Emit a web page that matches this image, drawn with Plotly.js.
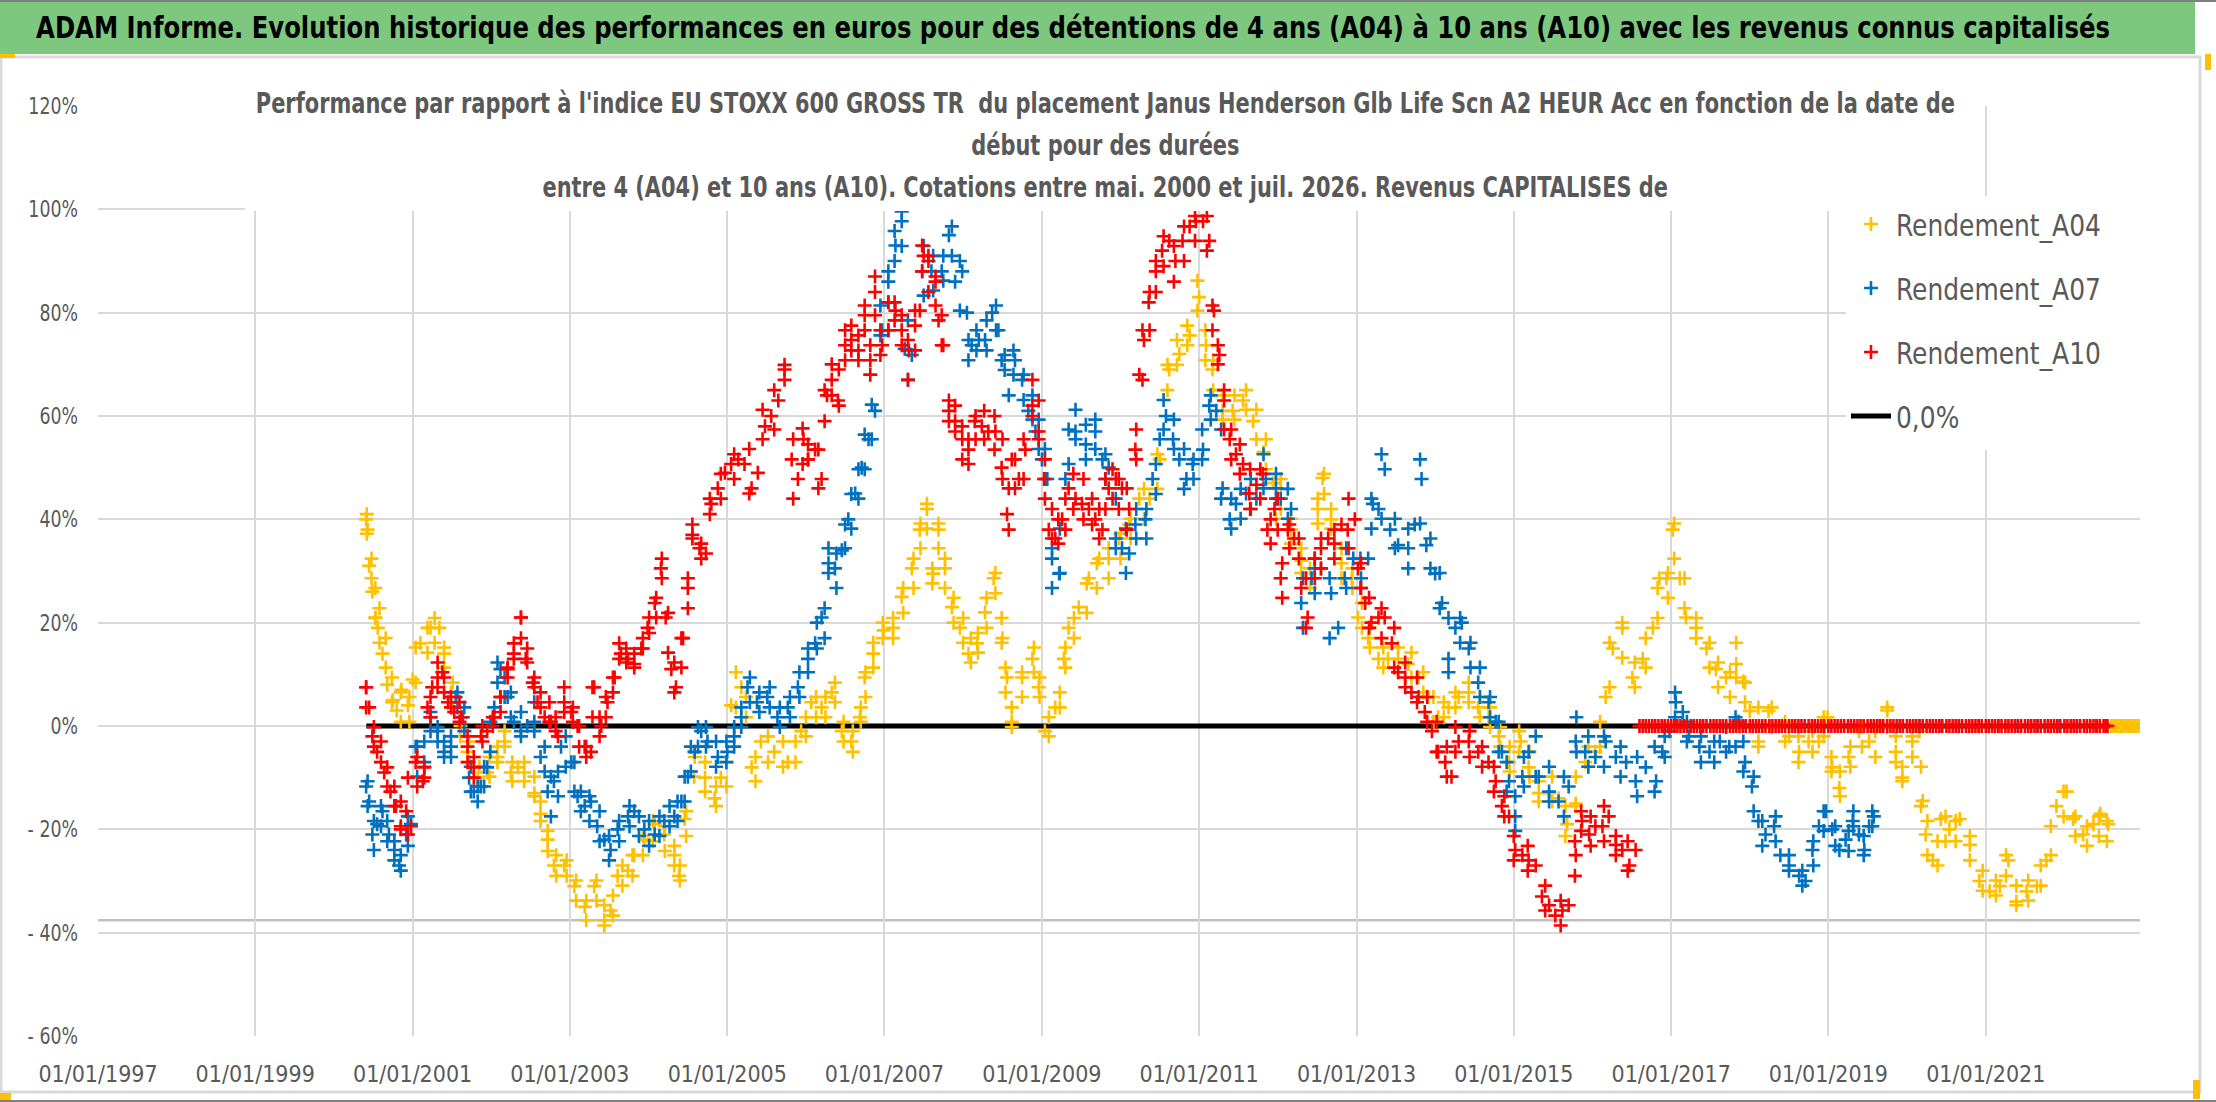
<!DOCTYPE html>
<html>
<head>
<meta charset="utf-8">
<script src="https://cdn.plot.ly/plotly-3.0.1.min.js"></script>
<style>
  html, body { margin: 0; padding: 0; background: #fff; }
  #chart { width: 2216px; height: 1102px; }
</style>
</head>
<body>
<div id="chart"></div>
<script>
// dates are read off the chart as decimal years, values in %
// main track of each cloud
const a04Years = [2000.41, 2000.43, 2000.45, 2000.49, 2000.53, 2000.56, 2000.62, 2000.68, 2000.75, 2000.8, 2000.86, 2000.94,
    2001.0, 2001.1, 2001.23, 2001.34, 2001.4, 2001.49, 2001.61, 2001.7, 2001.83, 2001.95,
    2002.08, 2002.17, 2002.25, 2002.34, 2002.42, 2002.55, 2002.63, 2002.72, 2002.8, 2002.93,
    2003.06, 2003.19, 2003.31, 2003.44, 2003.52, 2003.61, 2003.74, 2003.82, 2003.95,
    2004.08, 2004.2, 2004.33, 2004.39, 2004.46, 2004.59, 2004.72, 2004.84, 2004.92,
    2005.05, 2005.18, 2005.31, 2005.43, 2005.6, 2005.77, 2005.94,
    2006.07, 2006.2, 2006.33, 2006.46, 2006.58, 2006.69, 2006.75, 2006.86, 2006.99,
    2007.11, 2007.22, 2007.35, 2007.45, 2007.54, 2007.62, 2007.69, 2007.77, 2007.86, 2007.96,
    2008.07, 2008.18, 2008.28, 2008.39, 2008.5, 2008.56, 2008.62, 2008.75, 2008.88, 2008.96,
    2009.04, 2009.17, 2009.28, 2009.34, 2009.47, 2009.6, 2009.73, 2009.85, 2009.98,
    2010.11, 2010.24, 2010.37, 2010.5, 2010.62, 2010.75, 2010.88,
    2011.0, 2011.09, 2011.17, 2011.3, 2011.43, 2011.56, 2011.69, 2011.82, 2011.94,
    2012.04, 2012.17, 2012.3, 2012.43, 2012.51, 2012.57, 2012.68, 2012.81, 2012.94,
    2013.02, 2013.15, 2013.28, 2013.4, 2013.53, 2013.66, 2013.79, 2013.91,
    2014.04, 2014.17, 2014.3, 2014.43, 2014.55, 2014.68, 2014.81, 2014.94,
    2015.09, 2015.19, 2015.32, 2015.45, 2015.57, 2015.68, 2015.79, 2015.91,
    2016.04, 2016.17, 2016.26, 2016.38, 2016.51, 2016.64, 2016.77, 2016.85, 2016.94,
    2017.02, 2017.11, 2017.19, 2017.32, 2017.45, 2017.57, 2017.7, 2017.83, 2017.92,
    2018.0, 2018.11, 2018.24, 2018.37, 2018.5, 2018.63, 2018.75, 2018.88, 2018.99,
    2019.05, 2019.14, 2019.26, 2019.39, 2019.52, 2019.65, 2019.75, 2019.86, 2019.94,
    2020.07, 2020.16, 2020.2, 2020.24, 2020.33, 2020.43, 2020.54, 2020.67, 2020.8, 2020.92,
    2021.05, 2021.18, 2021.29, 2021.39, 2021.52, 2021.65, 2021.77, 2021.9,
    2022.03, 2022.11, 2022.24, 2022.37, 2022.46, 2022.56,
    2022.6, 2022.63, 2022.66, 2022.69, 2022.72, 2022.75, 2022.78, 2022.81, 2022.84, 2022.87, 2022.9, 2022.93, 2022.96];
const a04Values = [40, 38, 31, 26, 21, 19, 14, 8, 5, 3, 7, 4,
    9, 16, 19, 19, 14, 6.5, 0, -5, -10, -9,
    -6, -3, -9, -8, -9, -13, -17, -22, -27, -27,
    -31, -35, -31, -37.6, -35.7, -29, -28, -25, -22,
    -19, -21, -25, -29, -18, -6, -10, -14, -10,
    4, 7.5, -8, -3, -5, -7, -1,
    4.6, 3.6, 6.5, -1, -3, 1.7, 9.4, 14, 18.5,
    19, 25, 30.5, 38, 42, 29.5, 38, 30.5, 23, 19,
    14, 16, 22, 28.6, 17, 9.4, 0.8, 9.4, 13, 7.5,
    -1, 3.6, 13, 19, 23, 28.6, 32.4, 32.4, 36.3,
    39, 44, 44, 51.6, 69, 72, 75.6,
    83, 73.7, 69, 61, 61, 63, 59, 53, 47,
    46, 38, 32, 28.6, 42, 48, 40, 31.5, 28.6,
    21, 17, 13, 13, 13, 12, 9.4, 5.6,
    1.7, 3.6, 5.6, 6.5, 3.6, 1.7, -2, -7,
    -3, -8, -13, -13, -14, -19, -15, -7,
    -5, 5.6, 15, 19, 9.4, 13, 19, 28.6, 28.6,
    38, 28.6, 21, 19, 15, 11, 9.4, 12, 8.6,
    2.9, -3, 2.9, 0, -2, -5, -3, -3, 1.7,
    -8, -12, -6, -1, -3, 0, 3, -5, -10,
    -3, -1, -14.5, -21, -26, -18, -20, -18, -23, -30,
    -32, -31, -26, -34, -32, -31, -26, -15.5,
    -12.7, -18, -21, -19, -17, -19,
    0, 0, 0, 0, 0, 0, 0, 0, 0, 0, 0, 0, 0];

// upper and lower edge of the A04 cloud
const a04BandYears = [2000.42, 2000.48, 2000.53, 2000.58, 2000.66, 2000.74, 2000.85, 2000.96, 2001.04, 2001.19,
    2001.28, 2001.4, 2001.51, 2001.61, 2001.72, 2001.85, 2001.98, 2002.08, 2002.17, 2002.27,
    2002.42, 2002.55, 2002.63, 2002.72, 2002.83, 2002.96, 2003.08, 2003.21, 2003.34, 2003.44,
    2003.55, 2003.67, 2003.8, 2003.93, 2004.06, 2004.21, 2004.33, 2004.4, 2004.48, 2004.58,
    2004.72, 2004.86, 2004.99, 2005.11, 2005.24, 2005.36, 2005.52, 2005.71, 2005.87, 2006.0,
    2006.13, 2006.25, 2006.37, 2006.48, 2006.6, 2006.7, 2006.76, 2006.86, 2006.98, 2007.11,
    2007.24, 2007.37, 2007.46, 2007.54, 2007.61, 2007.69, 2007.77, 2007.88, 2008.0, 2008.1,
    2008.19, 2008.3, 2008.41, 2008.49, 2008.54, 2008.62, 2008.75, 2008.9, 2008.97, 2009.09,
    2009.23, 2009.3, 2009.41, 2009.57, 2009.7, 2009.85, 2010.0, 2010.13, 2010.3, 2010.47,
    2010.6, 2010.72, 2010.85, 2010.98, 2011.08, 2011.18, 2011.3, 2011.45, 2011.6, 2011.73,
    2011.85, 2011.98, 2012.04, 2012.17, 2012.3, 2012.41, 2012.51, 2012.59, 2012.68, 2012.81,
    2012.95, 2013.07, 2013.17, 2013.34, 2013.53, 2013.7, 2013.85, 2013.98, 2014.11, 2014.26,
    2014.43, 2014.57, 2014.7, 2014.83, 2014.95, 2015.07, 2015.2, 2015.32, 2015.49, 2015.66,
    2015.79, 2015.95, 2016.1, 2016.22, 2016.38, 2016.54, 2016.68, 2016.83, 2016.96, 2017.04,
    2017.17, 2017.32, 2017.49, 2017.6, 2017.75, 2017.83, 2017.94, 2018.11, 2018.28, 2018.45,
    2018.62, 2018.8, 2018.94, 2019.04, 2019.15, 2019.28, 2019.43, 2019.6, 2019.75, 2019.86,
    2019.94, 2020.07, 2020.18, 2020.26, 2020.39, 2020.49, 2020.62, 2020.8, 2020.96, 2021.13,
    2021.26, 2021.39, 2021.54, 2021.7, 2021.83, 2021.99, 2022.14, 2022.29, 2022.44, 2022.54];
const a04BandHigh = [41, 32.4, 26.7, 22.8, 17, 9.4, 6.5, 5.6, 15.2, 19,
    20.9, 15.2, 8.4, 1.7, -3, -7.9, -6, -4, -1, -7,
    -7, -9.8, -14.6, -20.3, -25, -26, -29.9, -33.8, -29.9, -34.7,
    -32.8, -27, -25, -21.3, -18.4, -19.4, -23.2, -27, -16.5, -5,
    -7, -11.7, -7, 10.4, 5.6, -6, -2, -3, -3, 1.7,
    5.6, 5.6, 8.4, 0.8, -1, 3.6, 10.4, 16.1, 20, 20.9,
    26.7, 32.4, 39.2, 43, 30.5, 39.2, 32.4, 24.8, 20.9, 17,
    18, 24.8, 29.6, 20.9, 11.3, 3.6, 10.4, 15.2, 9.4, 1.7,
    6.5, 15.2, 20.9, 27.6, 31.5, 34.4, 37.2, 40.1, 45.9, 52.6,
    69.9, 74.7, 77.5, 86.2, 76.6, 70.8, 64, 64, 65, 61.2,
    55.5, 47.8, 47.8, 40.1, 34.4, 30.5, 44, 48.8, 42, 34.4,
    30.5, 23.8, 19, 15.2, 15.2, 14.2, 10.4, 5.6, 4.6, 6.5,
    8.4, 5.6, 3.6, -0.2, -4, -1, -5, -10.7, -9.8, -15.5,
    -9.8, -4, 0.8, 16.1, 20, 12.3, 17, 26.7, 29.6, 39.2,
    28.6, 20.9, 16.1, 12.3, 10.4, 16.1, 8.4, 3.6, 3.6, 0.8,
    -2, -1, 1.7, -6, -8.8, -4, -0.2, -1, 3.6, -2,
    -7.9, -2, -7.9, -18.4, -22.3, -17.5, -18.4, -21.3, -28, -29.9,
    -25, -30.9, -29.9, -27, -19.4, -12.7, -17.5, -19.4, -17.5, -18.4];
const a04BandLow = [37.2, 28.6, 20.9, 16.1, 11.3, 4.6, 0.8, 0.8, 8.4, 14.2,
    16.1, 11.3, 3.6, -2, -7, -11.7, -9.8, -7, -4, -10.7,
    -10.7, -13.6, -18.4, -24.2, -29, -29, -33.8, -37.6, -33.8, -38.6,
    -36.7, -30.9, -29, -25, -22.3, -24.2, -27, -29.9, -21.3, -9.8,
    -12.7, -15.5, -11.7, 3.6, 1.7, -10.7, -7, -7.9, -7, -2,
    1.7, 1.7, 4.6, -3, -5, 0.8, 5.6, 11.3, 17, 17,
    21.9, 26.7, 34.4, 38.2, 27.6, 34.4, 26.7, 20, 16.1, 12.3,
    14.2, 19, 25.7, 16.1, 6.5, -0.2, 5.6, 10.4, 5.6, -2,
    3.6, 11.3, 17, 21.9, 26.7, 28.6, 32.4, 36.3, 40.1, 45.9,
    65, 69.9, 73.7, 80.4, 70.8, 65, 59.3, 59.3, 61.2, 55.5,
    49.7, 40.1, 42, 35.3, 29.6, 26.7, 39.2, 44.9, 38.2, 28.6,
    26.7, 19, 15.2, 11.3, 10.4, 9.4, 6.5, 0.8, 1.7, 3.6,
    4.6, 1.7, -0.2, -4, -8.8, -5, -9.8, -14.6, -14.6, -21.3,
    -15.5, -7.9, -4, 7.5, 13.2, 7.5, 11.3, 20.9, 24.8, 32.4,
    22.8, 17, 11.3, 7.5, 5.6, 9.4, 4.6, -4, -0.2, -3,
    -7, -5, -2, -8.8, -13.6, -7.9, -4, -6, -0.2, -7,
    -10.7, -6, -15.5, -25, -27, -22.3, -22.3, -26, -31.9, -32.8,
    -29, -34.7, -33.8, -30.9, -25, -17.5, -21.3, -23.2, -21.3, -22.3];

const a07Years = [2000.41, 2000.45, 2000.49, 2000.55, 2000.62, 2000.7, 2000.77, 2000.83, 2000.92, 2000.98,
    2001.04, 2001.15, 2001.23, 2001.32, 2001.4, 2001.49, 2001.55, 2001.64, 2001.72, 2001.78, 2001.87, 2001.95,
    2002.04, 2002.12, 2002.21, 2002.29, 2002.38, 2002.46, 2002.55, 2002.63, 2002.72, 2002.8, 2002.89,
    2003.02, 2003.1, 2003.19, 2003.27, 2003.35, 2003.44, 2003.52, 2003.61, 2003.74, 2003.82, 2003.95,
    2004.08, 2004.2, 2004.33, 2004.42, 2004.5, 2004.59, 2004.67, 2004.75, 2004.88,
    2005.0, 2005.09, 2005.18, 2005.26, 2005.38, 2005.51, 2005.64, 2005.77, 2005.9,
    2006.03, 2006.12, 2006.2, 2006.29, 2006.37, 2006.46, 2006.54, 2006.63, 2006.71, 2006.8, 2006.88, 2006.97,
    2007.05, 2007.14, 2007.22, 2007.26, 2007.35, 2007.48, 2007.6, 2007.73, 2007.82, 2007.9, 2007.99,
    2008.05, 2008.11, 2008.2, 2008.28, 2008.37, 2008.45, 2008.49, 2008.58, 2008.66, 2008.75, 2008.83, 2008.92,
    2009.0, 2009.07, 2009.13, 2009.22, 2009.3, 2009.43, 2009.56, 2009.68, 2009.77, 2009.85, 2009.94,
    2010.02, 2010.11, 2010.19, 2010.32, 2010.41, 2010.5, 2010.58, 2010.67, 2010.75, 2010.84, 2010.92,
    2011.05, 2011.13, 2011.22, 2011.3, 2011.39, 2011.47, 2011.6, 2011.73, 2011.85, 2011.98,
    2012.04, 2012.17, 2012.3, 2012.43, 2012.55, 2012.68, 2012.77, 2012.85, 2012.96,
    2013.06, 2013.15, 2013.21, 2013.28, 2013.36, 2013.43, 2013.53, 2013.66, 2013.74, 2013.83, 2013.89,
    2014.0, 2014.09, 2014.17, 2014.26, 2014.34, 2014.43, 2014.55, 2014.68, 2014.77, 2014.85, 2014.94,
    2015.02, 2015.11, 2015.19, 2015.32, 2015.45, 2015.57, 2015.7, 2015.79, 2015.91,
    2016.04, 2016.17, 2016.3, 2016.43, 2016.55, 2016.68, 2016.81, 2016.89, 2016.98,
    2017.06, 2017.15, 2017.23, 2017.36, 2017.49, 2017.62, 2017.74, 2017.86, 2017.94,
    2018.03, 2018.11, 2018.2, 2018.31, 2018.39, 2018.5, 2018.63, 2018.71, 2018.8, 2018.88, 2018.97,
    2019.05, 2019.14, 2019.22, 2019.31, 2019.39, 2019.46, 2019.52, 2019.58,
    2019.66, 2019.91, 2020.16, 2020.41, 2020.66, 2020.91, 2021.16, 2021.41, 2021.66, 2021.91, 2022.16, 2022.41];
const a07Values = [-11.7, -14.6, -21, -19, -16.5, -21, -24, -27, -21, -19,
    -4, -7, 1.7, -1, -5, -4, 5.6, 1.7, -10, -12.7, -11.7, -8,
    3.6, 11, 5.6, 0.8, -1, 0, 0.8, -6, -12.7, -10.7, -4,
    -7, -13.6, -15.5, -14.6, -19.4, -22, -24, -20, -17.5, -16.5, -20,
    -21, -18.4, -17.5, -14.6, -9.8, -5, -1, -3, -6,
    -5, -2, 1.7, 7.5, 4.6, 5.6, 1.7, 3.6, 7.5,
    13, 16, 21, 31.5, 30.5, 34, 40, 45, 50, 55.5, 61, 76.6,
    86, 93, 97.7, 73, 71.8, 88, 88, 88, 95, 86, 88,
    80, 73.7, 74.7, 74.7, 80, 76.6, 70.8, 64, 70.8, 67, 61, 57,
    51.6, 47.8, 32.4, 29.5, 47.8, 57, 54.5, 57, 51.6, 50, 36.3,
    34.4, 33.4, 39, 40, 47.8, 55.5, 60, 55.5, 51.6, 47.8, 50.7,
    53.5, 62, 61, 46, 40, 43, 45, 44, 47.8, 46,
    44, 42, 23.8, 28.6, 30.5, 25.7, 19, 28.6, 32.4,
    28.6, 32.4, 43, 42, 49.7, 38, 35, 34.4, 39, 47.8, 35,
    29.5, 23.8, 13, 19, 20, 15, 8.4, 4.6, 0.8, -5, -10.7,
    -17.5, -9.8, -5, -9.8, -12.7, -14.6, -11.7, -3, -5,
    -6, -3, -6, -7, -10.7, -8, -10.7, -5, -1,
    4.6, 2.7, -2, -4, -5, -3, -4, 0.8, -7,
    -11.7, -18.4, -21, -19.4, -25, -27, -29, -30, -24, -19.4, -16.5,
    -20, -24, -22, -18.4, -21, -24, -19.4, -17.5,
    0, 0, 0, 0, 0, 0, 0, 0, 0, 0, 0, 0];

const a07BandYears = [2000.43, 2000.51, 2000.6, 2000.68, 2000.77, 2000.85, 2000.94, 2001.06, 2001.15, 2001.23,
    2001.32, 2001.4, 2001.49, 2001.57, 2001.66, 2001.74, 2001.83, 2001.91, 2001.99, 2002.08,
    2002.17, 2002.25, 2002.38, 2002.55, 2002.68, 2002.76, 2002.85, 2002.95, 2003.06, 2003.14,
    2003.25, 2003.38, 2003.5, 2003.63, 2003.76, 2003.88, 2004.01, 2004.14, 2004.27, 2004.37,
    2004.46, 2004.54, 2004.63, 2004.73, 2004.86, 2004.99, 2005.09, 2005.18, 2005.29, 2005.41,
    2005.54, 2005.67, 2005.8, 2005.92, 2006.03, 2006.14, 2006.24, 2006.29, 2006.39, 2006.5,
    2006.58, 2006.67, 2006.75, 2006.84, 2006.95, 2007.05, 2007.13, 2007.22, 2007.3, 2007.5,
    2007.62, 2007.75, 2007.86, 2007.96, 2008.07, 2008.17, 2008.3, 2008.42, 2008.53, 2008.64,
    2008.77, 2008.88, 2008.96, 2009.04, 2009.13, 2009.23, 2009.34, 2009.43, 2009.56, 2009.68,
    2009.81, 2009.94, 2010.07, 2010.2, 2010.33, 2010.45, 2010.55, 2010.68, 2010.81, 2010.93,
    2011.04, 2011.15, 2011.28, 2011.41, 2011.53, 2011.66, 2011.82, 2011.98, 2012.13, 2012.32,
    2012.47, 2012.66, 2012.87, 2013.05, 2013.19, 2013.32, 2013.49, 2013.66, 2013.81, 2013.94,
    2014.06, 2014.17, 2014.32, 2014.45, 2014.57, 2014.7, 2014.81, 2014.91, 2015.02, 2015.13,
    2015.28, 2015.45, 2015.64, 2015.8, 2015.95, 2016.15, 2016.36, 2016.57, 2016.79, 2016.92,
    2017.05, 2017.2, 2017.38, 2017.55, 2017.7, 2017.82, 2017.92, 2018.05, 2018.16, 2018.33,
    2018.5, 2018.67, 2018.81, 2018.94, 2019.09, 2019.26, 2019.32, 2019.45, 2019.56];
const a07BandHigh = [-10.7, -18.4, -15.5, -18.4, -22.3, -25, -17.5, -4, -3, 2.7,
    -0.2, -3, -2, 6.5, 3.6, -7.9, -11.7, -7.9, 0.8, 12.3,
    9.4, 6.5, 2.7, 4.6, -4, -9.8, -8.8, -2, -7, -12.7,
    -13.6, -16.5, -21.3, -18.4, -15.5, -17.5, -18.4, -17.5, -15.5, -14.6,
    -9.8, -4, -0.2, -0.2, -3, -3, -0.2, 3.6, 9.4, 6.5,
    7.5, 3.6, 5.6, 10.4, 15, 20, 22.8, 34.4, 33.4, 39,
    44.9, 49.7, 56.4, 62.2, 81.4, 88, 95.8, 99.6, 78.5, 92.9,
    91, 91, 96.7, 90, 74.7, 76.6, 78.5, 81.4, 71.8, 72.7,
    68, 64, 59.3, 53.6, 34.4, 38.2, 57.4, 61.2, 58.3, 59.3,
    52.6, 44, 38.2, 42, 42, 50.7, 63.1, 59.3, 53.6, 51.6,
    57.4, 64, 57.4, 44, 45.9, 47.8, 52.6, 48.8, 45.9, 28.6,
    30.5, 28.6, 34.4, 32.4, 44, 52.6, 40.1, 38.2, 51.6, 36.3,
    29.6, 20.9, 20.9, 16.1, 11.3, 5.6, 0.8, -7, -13.6, -6,
    -2, -7.9, -9.8, 1.7, -2, -2, -4, -6, -4, -2,
    6.5, 0.8, -2, -3, -0.2, 1.7, -3, -9.8, -18.4, -17.5,
    -25, -28, -22.3, -16.5, -19.4, -20.3, -16.5, -21.3, -16.5];
const a07BandLow = [-15.5, -24, -19.4, -22.3, -26, -28, -23.2, -9.8, -7.9, -1,
    -3, -6, -6, 3.6, -1, -12.7, -14.6, -11.7, -5, 8.4,
    5.6, 1.7, -2, -1, -8.8, -17.5, -13.6, -7.9, -12.7, -16.5,
    -18.4, -22.3, -26, -22.3, -19.4, -21.3, -23.2, -21.3, -19.4, -18.4,
    -14.6, -8.8, -4, -4, -7.9, -7, -4, -0.2, 4.6, 2.7,
    3.6, -0.2, 1.7, 5.6, 10.4, 15, 17, 29.6, 26.7, 34.4,
    38.2, 44, 49.7, 55.5, 75.6, 82, 90, 92.9, 67, 83.3,
    84.3, 86.2, 91, 80.4, 70.8, 72.7, 72.7, 76.6, 68.9, 68,
    63.1, 59.3, 53.6, 47.8, 26.7, 29.6, 50.7, 55.5, 51.6, 53.6,
    47.8, 34.4, 29.6, 36.3, 36.3, 44.9, 57.4, 53.6, 45.9, 47.8,
    51.6, 59.3, 44, 38.2, 40.1, 42, 46, 44, 40.1, 19,
    25.7, 17, 26.7, 26.7, 38.2, 40.1, 34.4, 30.5, 39.2, 30.5,
    22.8, 10.4, 16.1, 11.3, 5.6, 1.7, -5, -12.7, -20.3, -11.7,
    -9.8, -14.6, -17.5, -5, -7.9, -7.9, -9.8, -13.6, -12.7, -6,
    1.7, -3, -7, -7, -5, -4, -8.8, -16.5, -23.2, -22.3,
    -28, -30.9, -27, -20.3, -23.2, -24.2, -19.4, -25, -19.4];

const a10Years = [2000.41, 2000.45, 2000.49, 2000.55, 2000.64, 2000.72, 2000.79, 2000.85, 2000.92, 2000.98,
    2001.04, 2001.13, 2001.19, 2001.25, 2001.32, 2001.38, 2001.45, 2001.53, 2001.62, 2001.7, 2001.78, 2001.87, 2001.95,
    2002.04, 2002.12, 2002.21, 2002.29, 2002.38, 2002.44, 2002.53, 2002.59, 2002.68, 2002.76, 2002.85, 2002.93,
    2003.02, 2003.1, 2003.19, 2003.27, 2003.31, 2003.4, 2003.48, 2003.57, 2003.65, 2003.74, 2003.82, 2003.91, 2003.99,
    2004.08, 2004.16, 2004.22, 2004.29, 2004.35, 2004.44, 2004.5, 2004.56, 2004.65, 2004.73, 2004.8, 2004.88, 2004.97,
    2005.05, 2005.14, 2005.22, 2005.31, 2005.39, 2005.48, 2005.56, 2005.65, 2005.73, 2005.82, 2005.9, 2005.97,
    2006.03, 2006.12, 2006.2, 2006.27, 2006.33, 2006.41, 2006.5, 2006.58, 2006.67, 2006.75, 2006.82, 2006.88, 2006.97,
    2007.05, 2007.14, 2007.22, 2007.31, 2007.39, 2007.45, 2007.5, 2007.56, 2007.65, 2007.69, 2007.75, 2007.82, 2007.9, 2007.99,
    2008.07, 2008.15, 2008.24, 2008.32, 2008.41, 2008.49, 2008.56, 2008.62, 2008.71, 2008.79, 2008.88, 2008.96,
    2009.03, 2009.09, 2009.17, 2009.26, 2009.34, 2009.43, 2009.51, 2009.6, 2009.68, 2009.77, 2009.85, 2009.94,
    2010.02, 2010.11, 2010.19, 2010.24, 2010.3, 2010.36, 2010.45, 2010.53, 2010.62, 2010.7, 2010.79, 2010.88, 2010.96,
    2011.05, 2011.13, 2011.19, 2011.26, 2011.32, 2011.39, 2011.47, 2011.56, 2011.64, 2011.73, 2011.81, 2011.87, 2011.96,
    2012.04, 2012.13, 2012.21, 2012.3, 2012.38, 2012.47, 2012.55, 2012.64, 2012.72, 2012.81, 2012.89, 2012.98,
    2013.02, 2013.11, 2013.19, 2013.28, 2013.36, 2013.45, 2013.53, 2013.62, 2013.7, 2013.79, 2013.87, 2013.96,
    2014.04, 2014.13, 2014.21, 2014.3, 2014.43, 2014.55, 2014.68, 2014.77, 2014.85, 2014.94,
    2015.02, 2015.11, 2015.19, 2015.28, 2015.36, 2015.45, 2015.53, 2015.62, 2015.7, 2015.79, 2015.87, 2015.96,
    2016.04, 2016.13, 2016.21, 2016.3, 2016.38, 2016.47, 2016.55,
    2016.6, 2016.68, 2016.76, 2016.84, 2016.92,
    2017.0, 2017.08, 2017.16, 2017.25, 2017.33, 2017.41, 2017.5, 2017.58, 2017.66, 2017.75, 2017.83, 2017.91,
    2018.0, 2018.08, 2018.16, 2018.25, 2018.33, 2018.41, 2018.5, 2018.58, 2018.66, 2018.75, 2018.83, 2018.91,
    2019.0, 2019.08, 2019.16, 2019.25, 2019.33, 2019.41, 2019.5, 2019.58, 2019.66, 2019.75, 2019.83, 2019.91,
    2020.0, 2020.08, 2020.16, 2020.25, 2020.33, 2020.41, 2020.5, 2020.58, 2020.66, 2020.75, 2020.83, 2020.91,
    2021.0, 2021.08, 2021.16, 2021.25, 2021.33, 2021.41, 2021.5, 2021.58, 2021.66, 2021.75, 2021.83, 2021.91,
    2022.0, 2022.08, 2022.16, 2022.25, 2022.33, 2022.41, 2022.5, 2022.55];
const a10Values = [7.5, 3.6, -2, -5, -9, -12.7, -15.5, -19.4, -16.5, -19.4,
    -7, -10.7, 3.6, 7.5, 9.4, 10.4, 4.6, 2.7, 1.7, -4, -8, -2, -1,
    1.7, 5.6, 11, 14, 21, 13, 8.4, 4.6, 1.7, 0.8, -2, 4.6,
    2.7, 0, -4, -5, 7.5, 0, 4.6, 9.4, 14, 13, 12, 15, 19,
    23.8, 30.5, 21, 11, 7.5, 17, 26.7, 37, 34.4, 33.4, 43, 46, 49,
    50.7, 51.6, 50.7, 46, 49, 58, 60, 63, 69, 51.6, 47.8, 55.5,
    51.6, 53.5, 47.8, 64, 67, 63, 73.7, 74.7, 72.7, 79.5, 70.8, 84, 73.7,
    76.6, 80.4, 76.6, 72.7, 77.5, 80.4, 91, 90, 86, 78.5, 73.7, 61, 59, 55.5,
    53.5, 59, 58, 57, 57, 50, 41, 51.6, 47.8, 53.5, 62, 57,
    47.8, 38, 36.3, 40, 46, 44, 43, 42, 40, 38, 46, 47.8,
    46, 42, 53.5, 68, 74.7, 82, 88, 92, 93.9, 90, 93.9, 96.7, 97.7,
    97.7, 93.9, 80.4, 71.8, 63, 55.5, 52.6, 50.7, 45, 46.7, 48.8, 38, 42,
    28.6, 38, 36.3, 26.7, 21, 32.4, 34.4, 36.3, 35.3, 39, 38, 40,
    30.5, 23.8, 20, 21, 21, 16, 10.4, 9.4, 6.5, 5.6, 2.7, -1,
    -5, -7, -9.8, -3, -3, -5, -7, -10.7, -15.5, -17.5,
    -24, -25, -26, -27, -33, -34.7, -36.7, -35.7, -34.7, -25, -18.4, -21,
    -19.4, -19.4, -17.5, -23, -24, -27, -24,
    0, 0, 0, 0, 0,
    0, 0, 0, 0, 0, 0, 0, 0, 0, 0, 0, 0,
    0, 0, 0, 0, 0, 0, 0, 0, 0, 0, 0, 0,
    0, 0, 0, 0, 0, 0, 0, 0, 0, 0, 0, 0,
    0, 0, 0, 0, 0, 0, 0, 0, 0, 0, 0, 0,
    0, 0, 0, 0, 0, 0, 0, 0, 0, 0, 0, 0,
    0, 0, 0, 0, 0, 0, 0, 0];

const a10BandYears = [2000.41, 2000.51, 2000.6, 2000.68, 2000.77, 2000.85, 2000.94, 2001.06, 2001.15, 2001.23,
    2001.32, 2001.4, 2001.49, 2001.6, 2001.7, 2001.78, 2001.89, 2002.02, 2002.12, 2002.21,
    2002.29, 2002.38, 2002.46, 2002.55, 2002.63, 2002.74, 2002.82, 2002.93, 2003.04, 2003.12,
    2003.21, 2003.29, 2003.38, 2003.46, 2003.55, 2003.63, 2003.72, 2003.82, 2003.93, 2004.01,
    2004.1, 2004.17, 2004.25, 2004.33, 2004.42, 2004.5, 2004.56, 2004.67, 2004.78, 2004.92,
    2005.09, 2005.28, 2005.45, 2005.6, 2005.73, 2005.84, 2005.96, 2006.03, 2006.16, 2006.24,
    2006.33, 2006.42, 2006.5, 2006.58, 2006.67, 2006.75, 2006.82, 2006.88, 2006.95, 2007.05,
    2007.13, 2007.22, 2007.3, 2007.39, 2007.48, 2007.56, 2007.65, 2007.73, 2007.82, 2007.9,
    2007.99, 2008.07, 2008.16, 2008.27, 2008.4, 2008.5, 2008.58, 2008.66, 2008.77, 2008.88,
    2008.96, 2009.04, 2009.13, 2009.21, 2009.3, 2009.4, 2009.53, 2009.64, 2009.73, 2009.81,
    2009.9, 2009.98, 2010.08, 2010.2, 2010.28, 2010.37, 2010.45, 2010.55, 2010.68, 2010.81,
    2010.95, 2011.1, 2011.17, 2011.24, 2011.32, 2011.41, 2011.52, 2011.65, 2011.78, 2011.91,
    2012.0, 2012.06, 2012.15, 2012.27, 2012.36, 2012.47, 2012.55, 2012.72, 2012.9, 2013.06,
    2013.16, 2013.32, 2013.48, 2013.62, 2013.77, 2013.9, 2014.02, 2014.15, 2014.26, 2014.44,
    2014.6, 2014.75, 2014.88, 2015.0, 2015.18, 2015.4, 2015.6, 2015.78, 2015.86, 2015.98,
    2016.15, 2016.3, 2016.45];
const a10BandHigh = [7.5, -0.2, -3, -8, -11.7, -14.6, -10, -6, -8, 5.6,
    12.3, 9.4, 5.6, 4.6, -2, -6, 0, 1.7, 5.6, 11.3,
    16, 21, 15, 9.4, 6.5, 4.6, 1.7, 7.5, 3.6, 0,
    -4, 7.5, 1.7, 5.6, 9.4, 16, 15, 14, 17, 21,
    24.8, 32.4, 21.9, 12.3, 17, 28.6, 39, 35.3, 44, 48.8,
    52.6, 53.6, 61.2, 65, 69.9, 55.5, 57.6, 54.5, 53.5, 65,
    70, 69, 76.6, 77.5, 75.6, 81.4, 73.7, 87, 76.6, 82,
    82, 79.5, 74.7, 80.4, 93, 91, 87, 79.5, 63, 62,
    58, 55.5, 60, 61, 60, 55.5, 46, 51.6, 55.5, 67,
    63, 51.6, 42, 40, 44, 48.8, 47.8, 44, 42, 47.8,
    49.7, 47.8, 46, 57.4, 76.6, 84, 90, 94.8, 92.9, 96.7,
    98.7, 98.7, 81.4, 73.7, 65, 57.4, 54.5, 49.7, 49.7, 40,
    44, 31.5, 39, 36.3, 28.6, 32.4, 36.3, 38, 44, 31.5,
    24.8, 22.8, 19, 12.3, 9.4, 5.6, 0.8, -4, -0.2, -1,
    -4, -7.9, -13.6, -21.3, -23.2, -30.9, -33.8, -22.3, -16.5, -17.5,
    -15.5, -21.3, -22.3];
const a10BandLow = [3.6, -4, -7, -11.7, -15.5, -20, -21, -11.7, -10, 1.7,
    7.5, 6.5, 3.6, 0.8, -7, -10, -3, 0, 2.7, 9.4,
    13, 17, 12.3, 7.5, 3.6, 0.8, -1, 2.7, 0.8, -4,
    -6, 1.7, -2, 1.7, 6.5, 13, 12.3, 11.3, 15, 18,
    21, 28.6, 14.2, 6.5, 11.3, 22.8, 36.3, 32.4, 41, 44,
    47.8, 45, 55.5, 57.4, 67, 44, 50.7, 51.6, 46, 59,
    64, 62, 70.8, 72.7, 70.8, 76.6, 68, 79.5, 71.8, 76.6,
    78.5, 73.7, 67, 72.7, 88, 84, 81.4, 73.7, 59, 57,
    51.6, 50.7, 55.5, 55.5, 53.5, 47.8, 38, 46, 47.8, 60,
    55.5, 44, 36.3, 35.3, 38, 42, 40, 39, 36.3, 42,
    44, 42, 38, 51.6, 67, 76.6, 84, 89, 86, 90,
    93.9, 92, 76.6, 70, 57.4, 51.6, 48.8, 42, 44, 35.3,
    38, 24.8, 34.4, 32.4, 19, 28.6, 30.5, 32.4, 34.4, 26.7,
    19, 17, 11.3, 7.5, 4.6, 0.8, -5, -9.8, -5, -6,
    -7.9, -12.7, -17.5, -26, -28, -35.7, -38.6, -29, -20.3, -23.2,
    -22.3, -25, -28];

// extra A10 dates in the flat part (value 0) between the ones above
const a10ZeroYears = [2016.64, 2016.72, 2016.8, 2016.88, 2016.96,
    2017.04, 2017.12, 2017.2, 2017.29, 2017.37, 2017.45, 2017.54, 2017.62, 2017.7, 2017.79, 2017.87, 2017.95,
    2018.04, 2018.12, 2018.2, 2018.29, 2018.37, 2018.45, 2018.54, 2018.62, 2018.7, 2018.79, 2018.87, 2018.95,
    2019.04, 2019.12, 2019.2, 2019.29, 2019.37, 2019.45, 2019.54, 2019.62, 2019.7, 2019.79, 2019.87, 2019.95,
    2020.04, 2020.12, 2020.2, 2020.29, 2020.37, 2020.45, 2020.54, 2020.62, 2020.7, 2020.79, 2020.87, 2020.95,
    2021.04, 2021.12, 2021.2, 2021.29, 2021.37, 2021.45, 2021.54, 2021.62, 2021.7, 2021.79, 2021.87, 2021.95,
    2022.04, 2022.12, 2022.2, 2022.29, 2022.37, 2022.45, 2022.53];
const a10ZeroValues = [0, 0, 0, 0, 0,
    0, 0, 0, 0, 0, 0, 0, 0, 0, 0, 0, 0,
    0, 0, 0, 0, 0, 0, 0, 0, 0, 0, 0, 0,
    0, 0, 0, 0, 0, 0, 0, 0, 0, 0, 0, 0,
    0, 0, 0, 0, 0, 0, 0, 0, 0, 0, 0, 0,
    0, 0, 0, 0, 0, 0, 0, 0, 0, 0, 0, 0,
    0, 0, 0, 0, 0, 0, 0];

// reference line "0,0%"
const zeroLineDates = ['2000-05-31', '2022-12-15'];
const zeroLineValues = [0, 0];

const yTickValues = [-60, -40, -20, 0, 20, 40, 60, 80, 100, 120];
const yTickLabels = ['- 60%', '- 40%', '- 20%', '0%', '20%', '40%', '60%', '80%', '100%', '120%'];

const seriesNames = ['Rendement_A04', 'Rendement_A07', 'Rendement_A10', '0,0%'];
const seriesColors = ['#FFC000', '#0070C0', '#FF0000', '#000000'];

const mainTitle = 'ADAM Informe. Evolution historique des performances en euros pour des détentions de 4 ans (A04) à 10 ans (A10) avec les revenus connus capitalisés';
const chartTitleLines = [
    "Performance par rapport à l'indice EU STOXX 600 GROSS TR  du placement Janus Henderson Glb Life Scn A2 HEUR Acc en fonction de la date de",
    'début pour des durées',
    'entre 4 (A04) et 10 ans (A10). Cotations entre mai. 2000 et juil. 2026. Revenus CAPITALISES de'
];

const FONT = "'DejaVu Sans Condensed', 'Liberation Sans Narrow', sans-serif";

// figure geometry (pixels)
const W = 2216, H = 1102;
const M = { l: 98, r: 76, t: 106, b: 66 };
const plotW = W - M.l - M.r, plotH = H - M.t - M.b;
const px = x => (x - M.l) / plotW;
const py = y => (H - M.b - y) / plotH;

function yearToDate(y) {
    const yr = Math.floor(y);
    const start = Date.UTC(yr, 0, 1), end = Date.UTC(yr + 1, 0, 1);
    return new Date(start + (y - yr) * (end - start)).toISOString().slice(0, 10);
}

// parts: list of [years, values] pairs that make up one series
function markerTrace(parts, i) {
    let xs = [], ys = [];
    parts.forEach(([yrs, vals]) => {
        xs = xs.concat(yrs.map(yearToDate));
        ys = ys.concat(vals);
    });
    return {
        x: xs,
        y: ys,
        name: seriesNames[i],
        type: 'scatter',
        mode: 'markers',
        legendrank: i + 1,
        legendgroup: 'g' + i,
        marker: {
            symbol: 'cross-thin-open',
            size: 10,
            color: seriesColors[i],
            line: { width: 2.6 }
        }
    };
}

const traces = [
    {
        x: zeroLineDates,
        y: zeroLineValues,
        name: seriesNames[3],
        type: 'scatter',
        mode: 'lines',
        legendrank: 4,
        legendgroup: 'g3',
        line: { color: seriesColors[3], width: 5 }
    },
    markerTrace([[a04Years, a04Values], [a04BandYears, a04BandHigh], [a04BandYears, a04BandLow]], 0),
    markerTrace([[a07Years, a07Values], [a07BandYears, a07BandHigh], [a07BandYears, a07BandLow]], 1),
    markerTrace([[a10Years, a10Values], [a10BandYears, a10BandHigh], [a10BandYears, a10BandLow],
        [a10ZeroYears, a10ZeroValues]], 2)
];

const subtitleY = [103, 146, 188];

const layout = {
    width: W,
    height: H,
    margin: M,
    paper_bgcolor: '#ffffff',
    plot_bgcolor: '#ffffff',
    font: { family: FONT, color: '#595959', size: 23 },
    showlegend: true,
    legend: {
        x: px(1846),
        y: py(198),
        xanchor: 'left',
        yanchor: 'top',
        bgcolor: '#ffffff',
        font: { family: FONT, size: 30, color: '#595959' },
        tracegroupgap: 22,
        itemwidth: 40
    },
    xaxis: {
        type: 'date',
        range: ['1997-01-01', '2022-12-18'],
        tick0: '1997-01-01',
        dtick: 'M24',
        tickformat: '%d/%m/%Y',
        showgrid: true,
        gridcolor: '#d9d9d9',
        gridwidth: 2,
        zeroline: false,
        showline: false,
        ticks: '',
        ticklabelstandoff: 22,
        tickfont: { family: FONT, size: 23, color: '#595959' }
    },
    yaxis: {
        range: [-60, 120],
        tickvals: yTickValues,
        ticktext: yTickLabels,
        showgrid: true,
        gridcolor: '#d9d9d9',
        gridwidth: 2,
        zeroline: false,
        showline: false,
        ticks: '',
        ticklabelstandoff: 19,
        tickfont: { family: FONT, size: 23, color: '#595959' }
    },
    shapes: [
        // chart frame
        { type: 'rect', xref: 'paper', yref: 'paper', x0: px(1), x1: px(2200), y0: py(57), y1: py(1092),
          line: { color: '#d9d9d9', width: 3 }, fillcolor: 'rgba(0,0,0,0)', layer: 'below' },
        // green banner
        { type: 'rect', xref: 'paper', yref: 'paper', x0: px(0), x1: px(2195), y0: py(1), y1: py(54),
          line: { width: 0 }, fillcolor: '#7DC87E', layer: 'above' },
        { type: 'line', xref: 'paper', yref: 'paper', x0: px(0), x1: px(2216), y0: py(1), y1: py(1),
          line: { color: '#7f7f7f', width: 2 } },
        { type: 'line', xref: 'paper', yref: 'paper', x0: px(0), x1: px(2216), y0: py(1101), y1: py(1101),
          line: { color: '#7f7f7f', width: 2 } },
        // stray horizontal rule below the data
        { type: 'line', xref: 'paper', yref: 'y', x0: 0, x1: 1, y0: -37.6, y1: -37.6,
          line: { color: '#bfbfbf', width: 2.5 }, layer: 'below' },
        // white boxes behind the chart title and the legend
        { type: 'rect', xref: 'paper', yref: 'paper', x0: px(245), x1: px(1965), y0: py(84), y1: py(211),
          line: { width: 0 }, fillcolor: '#ffffff', layer: 'above' },
        { type: 'rect', xref: 'paper', yref: 'paper', x0: px(1848), x1: px(2140), y0: py(196), y1: py(450),
          line: { width: 0 }, fillcolor: '#ffffff', layer: 'above' },
        // selection handles
        { type: 'rect', xref: 'paper', yref: 'paper', x0: px(0), x1: px(15), y0: py(54), y1: py(58),
          line: { width: 0 }, fillcolor: '#FFC000', layer: 'above' },
        { type: 'rect', xref: 'paper', yref: 'paper', x0: px(2205), x1: px(2211), y0: py(54), y1: py(70),
          line: { width: 0 }, fillcolor: '#FFC000', layer: 'above' },
        { type: 'rect', xref: 'paper', yref: 'paper', x0: px(0), x1: px(11), y0: py(1093), y1: py(1100),
          line: { width: 0 }, fillcolor: '#FFC000', layer: 'above' },
        { type: 'rect', xref: 'paper', yref: 'paper', x0: px(2193), x1: px(2200), y0: py(1080), y1: py(1099),
          line: { width: 0 }, fillcolor: '#FFC000', layer: 'above' }
    ],
    annotations: [
        {
            text: '<b>' + mainTitle + '</b>',
            xref: 'paper', yref: 'paper',
            x: px(34), y: py(28),
            xanchor: 'left', yanchor: 'middle',
            showarrow: false,
            font: { family: FONT, size: 30, color: '#000000' }
        }
    ].concat(chartTitleLines.map((t, i) => ({
        text: '<b>' + t + '</b>',
        xref: 'paper', yref: 'paper',
        x: px(1105), y: py(subtitleY[i]),
        xanchor: 'center', yanchor: 'middle',
        showarrow: false,
        font: { family: FONT, size: 28, color: '#595959' }
    })))
};

// the original uses a narrow face; condense the wide fallback horizontally
function squeeze(el, s, anchor) {
    const bb = el.getBBox();
    const ax = anchor === 'left' ? bb.x : anchor === 'right' ? bb.x + bb.width : bb.x + bb.width / 2;
    const prev = el.getAttribute('transform') || '';
    el.setAttribute('transform', prev + ' translate(' + ax + ' 0) scale(' + s + ' 1) translate(' + (-ax) + ' 0)');
}

Plotly.newPlot('chart', traces, layout, { displayModeBar: false, staticPlot: true }).then(gd => {
    const ann = gd.querySelectorAll('.annotation-text');
    squeeze(ann[0], 2074 / ann[0].getBBox().width, 'left');
    const s = 1700 / ann[1].getBBox().width;
    for (let i = 1; i < ann.length; i++) {
        squeeze(ann[i], s, 'center');
    }
    const leg = gd.querySelectorAll('.legendtext');
    let widest = 0;
    leg.forEach(t => { widest = Math.max(widest, t.getBBox().width); });
    leg.forEach(t => squeeze(t, 205 / widest, 'left'));
    gd.querySelectorAll('.ytick text').forEach(t => squeeze(t, 0.84, 'right'));
});
</script>
</body>
</html>
